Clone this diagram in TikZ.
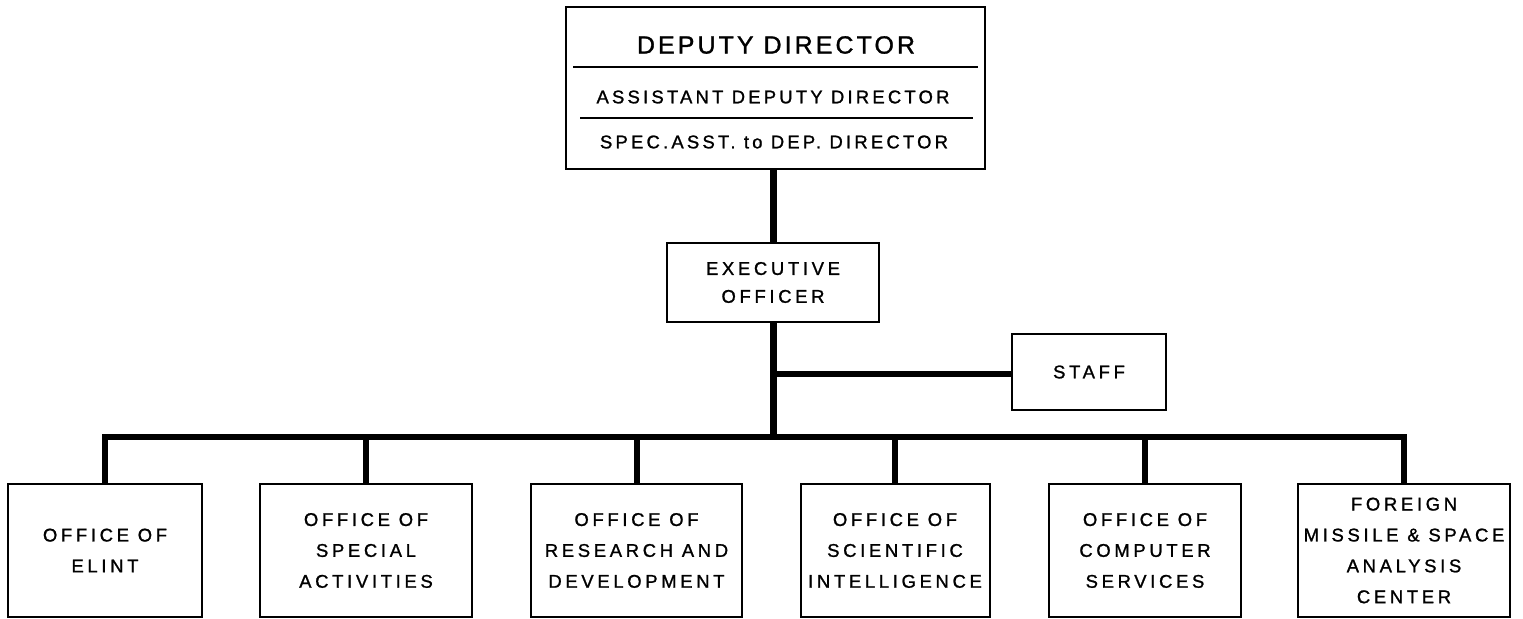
\documentclass[tikz,border=0pt]{standalone}
\usepackage{fontspec}
\setmainfont{Liberation Sans}[LetterSpace=20, FakeBold=1.2]
\newfontfamily\titlefont{Liberation Sans}[LetterSpace=12.5, FakeBold=1.2]
\newfontfamily\subfont{Liberation Sans}[LetterSpace=17.5, FakeBold=1.2]
\begin{document}
\begin{tikzpicture}[x=1bp,y=-1bp,
  box/.style={draw=black, line width=2bp, fill=white, inner sep=0pt, align=center,
    font=\fontsize{18.5}{31}\selectfont},
  txt/.style={inner sep=0pt, align=center, font=\subfont\fontsize{18.5}{31}\selectfont},
  mainline/.style={line width=7bp, draw=black},
  branch/.style={line width=6bp, draw=black, line join=miter},
  divider/.style={line width=1.5bp, draw=black}
]
\useasboundingbox (0,0) rectangle (1523,619);
\fill[white] (0,0) rectangle (1523,619);

% top box
\node[box, minimum width=419bp, minimum height=162bp] (dd) at (775.5,88) {};
\node[txt, font=\titlefont\fontsize{25}{30}\selectfont] (t1) at (776,45) {DEPUTY DIRECTOR};
\node[txt] (t2) at (773,97) {ASSISTANT DEPUTY DIRECTOR};
\node[txt] (t3) at (774,142) {SPEC.ASST. to DEP. DIRECTOR};
\coordinate (d1a) at (573,67); \coordinate (d1b) at (978,67);
\coordinate (d2a) at (580,118); \coordinate (d2b) at (973,118);
\draw[divider] (d1a) -- (d1b);
\draw[divider] (d2a) -- (d2b);

% executive officer
\node[box, minimum width=212bp, minimum height=79bp, font=\fontsize{18.5}{28}\selectfont] (ex) at (773,282.5) {EXECUTIVE\\OFFICER};

% staff
\node[box, minimum width=154bp, minimum height=76bp] (st) at (1089,372) {STAFF};

% bottom offices
\node[box, minimum width=194bp, minimum height=133bp] (o1) at (105,550.5) {OFFICE OF\\ELINT};
\node[box, minimum width=212bp, minimum height=133bp] (o2) at (366,550.5) {OFFICE OF\\SPECIAL\\ACTIVITIES};
\node[box, minimum width=211bp, minimum height=133bp] (o3) at (636.5,550.5) {OFFICE OF\\RESEARCH AND\\DEVELOPMENT};
\node[box, minimum width=189bp, minimum height=133bp] (o4) at (895,550.5) {OFFICE OF\\SCIENTIFIC\\INTELLIGENCE};
\node[box, minimum width=192bp, minimum height=133bp] (o5) at (1145,550.5) {OFFICE OF\\COMPUTER\\SERVICES};
\node[box, minimum width=212bp, minimum height=133bp] (o6) at (1404,550.5) {FOREIGN\\MISSILE \& SPACE\\ANALYSIS\\CENTER};

% connectors
\coordinate (j) at (773,437);
\coordinate (s) at (773,374);
\draw[mainline] (ex.north |- dd.south) -- (ex.north);
\draw[mainline] (ex.south) -- (j);
\draw[branch] (s) -- (s -| st.west);
\draw[branch] (o1.north) |- (j) -| (o6.north);
\draw[branch] (j -| o2) -- (o2.north);
\draw[branch] (j -| o3) -- (o3.north);
\draw[branch] (j -| o4) -- (o4.north);
\draw[branch] (j -| o5) -- (o5.north);
\end{tikzpicture}
\end{document}
